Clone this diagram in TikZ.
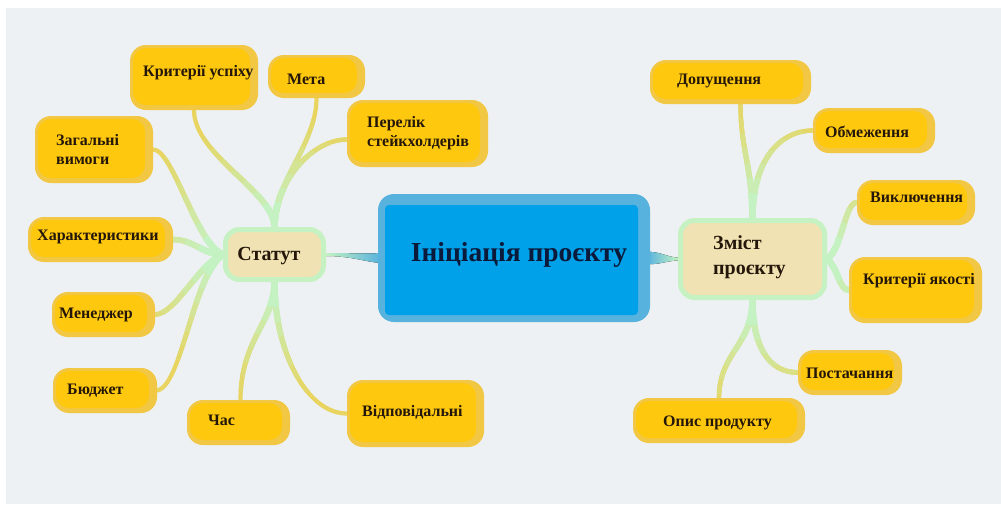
\documentclass[tikz,border=0pt]{standalone}
\usepackage{fontspec}
\setmainfont{Liberation Serif}
\usetikzlibrary{calc}
\pgfdeclarelayer{bg}
\pgfsetlayers{bg,main}

\definecolor{pagebg}{HTML}{EDF1F3}
\definecolor{leafout}{HTML}{F2C744}
\definecolor{leafin}{HTML}{FEC80E}
\definecolor{hubfill}{HTML}{F0E2B2}
\definecolor{hubline}{HTML}{C6F1C2}
\definecolor{rootout}{HTML}{58B2DE}
\definecolor{rootin}{HTML}{00A1E9}
\definecolor{roottext}{HTML}{0B1A3A}
\definecolor{leaftext}{HTML}{24170A}
\definecolor{linkyellow}{HTML}{E8D45E}
\definecolor{linkgreen}{HTML}{C4F2C2}

\tikzset{
  leaf/.style={fill=leafout, draw=none, rounded corners=16pt, inner sep=0pt,
    path picture={\fill[leafin, rounded corners=13pt]
      ([shift={(3pt,-3pt)}]path picture bounding box.north west) rectangle
      ([shift={(-8pt,5pt)}]path picture bounding box.south east);}},
  ltext/.style={font=\bfseries\fontsize{16}{19.5}\selectfont, text=leaftext,
    inner sep=0pt, align=left, anchor=west},
  hub/.style={fill=hubfill, draw=hubline, line width=5pt, rounded corners=14pt, inner sep=0pt},
  htext/.style={font=\bfseries\fontsize{20}{25}\selectfont, text=leaftext, inner sep=0pt, align=left},
  root/.style={fill=rootout, draw=none, rounded corners=16pt, inner sep=0pt,
    path picture={\fill[rootin, rounded corners=4pt]
      ([shift={(7pt,-11pt)}]path picture bounding box.north west) rectangle
      ([shift={(-12pt,7pt)}]path picture bounding box.south east);}},
  link/.style={line cap=round},
}

% a branch: thin and yellow at the leaf, wider and green towards the hub anchor #1
\newcommand\branchline[2]{%
  \draw[link, line width=4.2pt, linkyellow] #2;
  \foreach \rr/\pp/\ww in {115/12/4.4,100/26/4.7,85/40/5.0,70/55/5.3,55/70/5.7,40/85/6.1,25/100/6.6}{%
    \begin{scope}
      \clip (#1) circle (\rr pt);
      \draw[link, line width=\ww pt, linkgreen!\pp!linkyellow] #2;
    \end{scope}}}

\begin{document}
\begin{tikzpicture}[x=1pt, y=-1pt]
\begin{pgfonlayer}{bg}
  \useasboundingbox (0,0) rectangle (1001,504);
  \fill[white] (0,0) rectangle (1001,504);
  \fill[pagebg] (6,8) rectangle (1001,504);
\end{pgfonlayer}

% central topic
\node[root, minimum width=272pt, minimum height=128pt] (cen) at (514,258) {};
\node[font=\bfseries\fontsize{27.5}{30}\selectfont, text=roottext, inner sep=0pt] (tcen) at (519,255) {Ініціація проєкту};

% the two sub-topics
\node[hub, minimum width=98pt, minimum height=50pt] (stat) at (274.5,254.5) {};
\node[htext] (tstat) at (269,256) {Статут};
\node[hub, minimum width=144pt, minimum height=77pt] (zm) at (752.5,259) {};
\node[htext, anchor=west] (tzm) at (713,257.5) {Зміст\\проєкту};

% leaves of "Статут"
\node[leaf, minimum width=128pt, minimum height=65pt] (kr) at (194,77.5) {};
\node[ltext] (tkr) at (143,73) {Критерії успіху};
\node[leaf, minimum width=97pt, minimum height=43pt] (meta) at (316.5,76.5) {};
\node[ltext] (tmeta) at (287,79) {Мета};
\node[leaf, minimum width=141pt, minimum height=67pt] (per) at (417.5,133.5) {};
\node[ltext] (tper) at (367,133) {Перелік\\стейкхолдерів};
\node[leaf, minimum width=118pt, minimum height=67pt] (zag) at (94,149.5) {};
\node[ltext] (tzag) at (56,149.5) {Загальні\\вимоги};
\node[leaf, minimum width=145pt, minimum height=45pt] (har) at (100.5,239.5) {};
\node[ltext] (thar) at (37,237) {Характеристики};
\node[leaf, minimum width=103pt, minimum height=45pt] (men) at (103.5,314.5) {};
\node[ltext] (tmen) at (59,315) {Менеджер};
\node[leaf, minimum width=104pt, minimum height=45pt] (bud) at (105,390.5) {};
\node[ltext] (tbud) at (67,391) {Бюджет};
\node[leaf, minimum width=103pt, minimum height=45pt] (chas) at (238.5,422.5) {};
\node[ltext] (tchas) at (208,420) {Час};
\node[leaf, minimum width=137pt, minimum height=67pt] (vid) at (415.5,413.5) {};
\node[ltext] (tvid) at (362,412) {Відповідальні};

% leaves of "Зміст проєкту"
\node[leaf, minimum width=161pt, minimum height=44pt] (dop) at (730.5,82) {};
\node[ltext] (tdop) at (677,81) {Допущення};
\node[leaf, minimum width=122pt, minimum height=45pt] (obm) at (874,130.5) {};
\node[ltext] (tobm) at (825,132) {Обмеження};
\node[leaf, minimum width=118pt, minimum height=45pt] (vyk) at (916,202.5) {};
\node[ltext] (tvyk) at (870,197) {Виключення};
\node[leaf, minimum width=133pt, minimum height=66pt] (kya) at (915.5,290) {};
\node[ltext] (tkya) at (863,281) {Критерії якості};
\node[leaf, minimum width=104pt, minimum height=45pt] (post) at (850,372.5) {};
\node[ltext] (tpost) at (806,373) {Постачання};
\node[leaf, minimum width=172pt, minimum height=45pt] (opys) at (719,420.5) {};
\node[ltext] (topys) at (663,423) {Опис продукту};

\begin{pgfonlayer}{bg}
  % tapered links from the central topic
  \fill[left color=linkgreen, right color=rootout]
    ($(stat.east)+(0,-1.5)$) .. controls +(25,0) and +(-15,1) .. ($(cen.west)+(3,-5)$)
    -- ($(cen.west)+(3,5)$) .. controls +(-15,-1) and +(25,0) .. ($(stat.east)+(0,1.5)$) -- cycle;
  \fill[left color=rootout, right color=linkgreen]
    ($(cen.east)+(-3,-6)$) .. controls +(12,-1) and +(-10,0) .. ($(zm.west)+(0,-1.5)$)
    -- ($(zm.west)+(0,1.5)$) .. controls +(-10,0) and +(12,1) .. ($(cen.east)+(-3,6)$) -- cycle;

  % branches of "Статут"
  \branchline{stat.north}{(stat.north) .. controls +(0,-35) and +(0,45) .. (kr.south)}
  \branchline{stat.north}{(stat.north) .. controls +(0,-45) and +(0,45) .. (meta.south)}
  \branchline{stat.north}{(stat.north) .. controls +(0,-45) and +(-35,0) .. ($(per.west)+(0,6)$)}
  \branchline{stat.west}{(stat.west) .. controls +(-27,-10) and +(20,0) .. (zag.east)}
  \branchline{stat.west}{(stat.west) .. controls +(-20,0) and +(20,0) .. (har.east)}
  \branchline{stat.west}{(stat.west) .. controls +(-25,10) and +(20,0) .. (men.east)}
  \branchline{stat.west}{(stat.west) .. controls +(-30,20) and +(25,-5) .. (bud.east)}
  \branchline{stat.south}{(stat.south) .. controls +(0,40) and +(0,-60) .. ($(chas.north)+(2,0)$)}
  \branchline{stat.south}{(stat.south) .. controls +(0,70) and +(-40,0) .. (vid.west)}

  % branches of "Зміст проєкту"
  \branchline{zm.north}{(zm.north) .. controls +(0,-50) and +(0,45) .. ($(dop.south)+(10,0)$)}
  \branchline{zm.north}{(zm.north) .. controls +(0,-55) and +(-35,0) .. (obm.west)}
  \branchline{zm.east}{(zm.east) .. controls +(15,-10) and +(-12,0) .. (vyk.west)}
  \branchline{zm.east}{(zm.east) .. controls +(12,10) and +(-10,0) .. (kya.west)}
  \branchline{zm.south}{(zm.south) .. controls +(0,45) and +(-30,0) .. (post.west)}
  \branchline{zm.south}{(zm.south) .. controls +(0,45) and +(0,-45) .. (opys.north)}
\end{pgfonlayer}
\end{tikzpicture}
\end{document}
